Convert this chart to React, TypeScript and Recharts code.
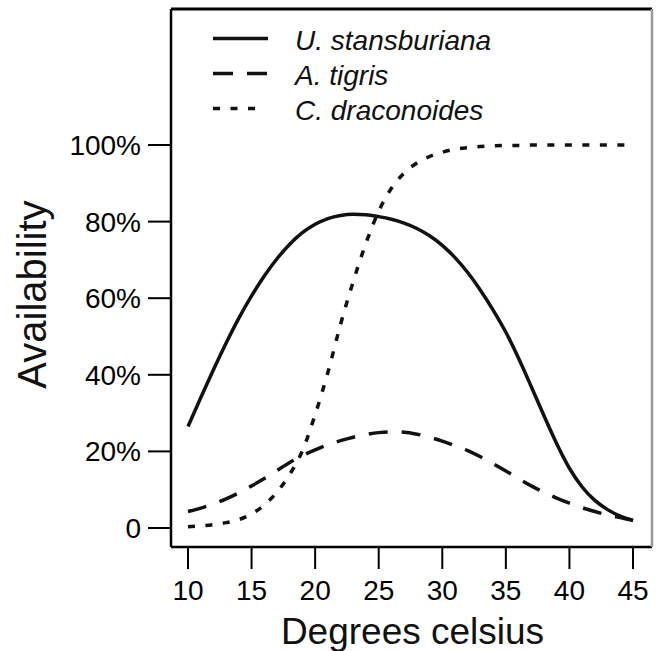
import React from 'react';
import { LineChart, Line, XAxis, YAxis, Legend, Label } from 'recharts';

const FONT = '"Liberation Sans", Arial, Helvetica, sans-serif';

// Temperatures (degrees celsius)
const temps = [10, 11, 12, 13, 14, 15, 16, 17, 18, 19, 20, 21, 22, 23, 24, 25, 26, 27, 28, 29, 30, 31, 32, 33, 34, 35, 36, 37, 38, 39, 40, 41, 42, 43, 44, 45];

// Availability (%) per species
const stansburiana = [26.5, 34.0, 41.3, 48.3, 54.8, 60.6, 65.8, 70.3, 74.1, 77.1, 79.3, 80.8, 81.6, 81.9, 81.8, 81.3, 80.6, 79.6, 78.2, 76.3, 73.8, 70.6, 66.7, 62.1, 56.9, 51.1, 44.3, 36.9, 29.3, 22.0, 15.6, 10.7, 7.2, 4.8, 3.1, 2.0];
const tigris = [4.3, 5.2, 6.3, 7.6, 9.2, 11.0, 12.9, 15.0, 17.1, 18.9, 20.4, 21.7, 22.8, 23.7, 24.4, 24.9, 25.1, 25.0, 24.5, 23.7, 22.7, 21.5, 20.2, 18.6, 16.8, 14.9, 12.9, 11.0, 9.3, 7.8, 6.5, 5.3, 4.3, 3.4, 2.7, 2.0];
const draconoides = [0.3, 0.55, 0.9, 1.4, 2.2, 3.7, 6.0, 9.4, 14.0, 20.2, 29.6, 40.6, 53.2, 64.4, 74.4, 82.7, 88.7, 92.7, 95.3, 97.0, 98.1, 98.9, 99.3, 99.6, 99.8, 99.9, 99.9, 100, 100, 100, 100, 100, 100, 100, 100, 100];

const seriesKeys = ['us', 'at', 'cd'];
const seriesNames = ['U. stansburiana', 'A. tigris', 'C. draconoides'];
const xTicks = [10, 15, 20, 25, 30, 35, 40, 45];
const yTicks = [0, 20, 40, 60, 80, 100];

const data = temps.map((t, i) => ({
  t,
  us: stansburiana[i],
  at: tigris[i],
  cd: draconoides[i],
}));

const dashes: Record<string, { plot?: string; legend?: string; len: number }> = {
  us: { plot: undefined, legend: undefined, len: 55 },
  at: { plot: '19 14', legend: '20 14', len: 55 },
  cd: { plot: '7 10.5', legend: '7 10.5', len: 42 },
};

const renderLegend = () => {
  return (
    <div style={{ fontFamily: FONT, fontStyle: 'italic', fontSize: 28, color: '#111' }}>
      {seriesKeys.map((k, i) => {
        const d = dashes[k];
        return (
          <div key={k} style={{ display: 'flex', alignItems: 'center', height: 35 }}>
            <svg width={82} height={35} style={{ display: 'block' }}>
              <line x1={0} y1={15.5} x2={d.len} y2={15.5} stroke="#111" strokeWidth={3.5} strokeDasharray={d.legend} />
            </svg>
            <span style={{ lineHeight: '35px', whiteSpace: 'nowrap' }}>{seriesNames[i]}</span>
          </div>
        );
      })}
    </div>
  );
};

const XTitle = (props: any) => {
  const vb = props.viewBox || { x: 171, y: 547, width: 481, height: 104 };
  return (
    <text x={vb.x + vb.width / 2 + 1} y={vb.y + 97} textAnchor="middle" fontFamily={FONT} fontSize={37} fill="#111">
      Degrees celsius
    </text>
  );
};

const YTitle = () => {
  const x = 46;
  const y = 294.5;
  return (
    <text x={x} y={y} transform={`rotate(-90, ${x}, ${y})`} textAnchor="middle" fontFamily={FONT} fontSize={40} fill="#111">
      Availability
    </text>
  );
};

export default function App() {
  return (
    <div style={{ position: 'absolute', left: 0, top: 0, width: 660, height: 651, background: '#fff' }}>
      <LineChart width={660} height={651} data={data} margin={{ top: 8, right: 7, bottom: 0, left: 0 }}>
        <XAxis
          type="number"
          dataKey="t"
          domain={[10, 45]}
          ticks={xTicks}
          interval={0}
          height={104}
          padding={{ left: 17, right: 19 }}
          tickSize={22}
          tickMargin={11}
          axisLine={{ stroke: '#000', strokeWidth: 2.5 }}
          tickLine={{ stroke: '#000', strokeWidth: 2 }}
          tick={{ fill: '#000', fontSize: 28, fontFamily: FONT }}
        >
          <Label content={<XTitle />} />
        </XAxis>
        <XAxis
          xAxisId="top"
          orientation="top"
          type="number"
          dataKey="t"
          domain={[10, 45]}
          height={1}
          tick={false}
          tickLine={false}
          axisLine={{ stroke: '#000', strokeWidth: 3 }}
        />
        <YAxis
          type="number"
          domain={[0, 100]}
          ticks={yTicks}
          interval={0}
          width={171}
          padding={{ top: 136, bottom: 19 }}
          tickSize={23}
          tickMargin={7}
          axisLine={{ stroke: '#000', strokeWidth: 2.5 }}
          tickLine={{ stroke: '#000', strokeWidth: 2 }}
          tick={{ fill: '#000', fontSize: 28, fontFamily: FONT }}
          tickFormatter={(v: number) => (v === 0 ? '0' : `${v}%`)}
        >
          <Label content={<YTitle />} />
        </YAxis>
        <YAxis
          yAxisId="right"
          orientation="right"
          type="number"
          domain={[0, 100]}
          width={1}
          tick={false}
          tickLine={false}
          axisLine={{ stroke: '#9a9a9a', strokeWidth: 2.5 }}
        />
        <Legend
          layout="vertical"
          verticalAlign="middle"
          align="center"
          content={renderLegend}
          wrapperStyle={{ left: 213, top: 23, width: 320 }}
        />
        <Line dataKey="us" name={seriesNames[0]} type="monotone" stroke="#111" strokeWidth={3.5} dot={false} activeDot={false} isAnimationActive={false} />
        <Line dataKey="at" name={seriesNames[1]} type="monotone" stroke="#111" strokeWidth={3.5} strokeDasharray={dashes.at.plot} dot={false} activeDot={false} isAnimationActive={false} />
        <Line dataKey="cd" name={seriesNames[2]} type="monotone" stroke="#111" strokeWidth={3.5} strokeDasharray={dashes.cd.plot} dot={false} activeDot={false} isAnimationActive={false} />
        <Line yAxisId="right" xAxisId="top" dataKey="us" stroke="none" legendType="none" dot={false} activeDot={false} isAnimationActive={false} />
      </LineChart>
    </div>
  );
}
